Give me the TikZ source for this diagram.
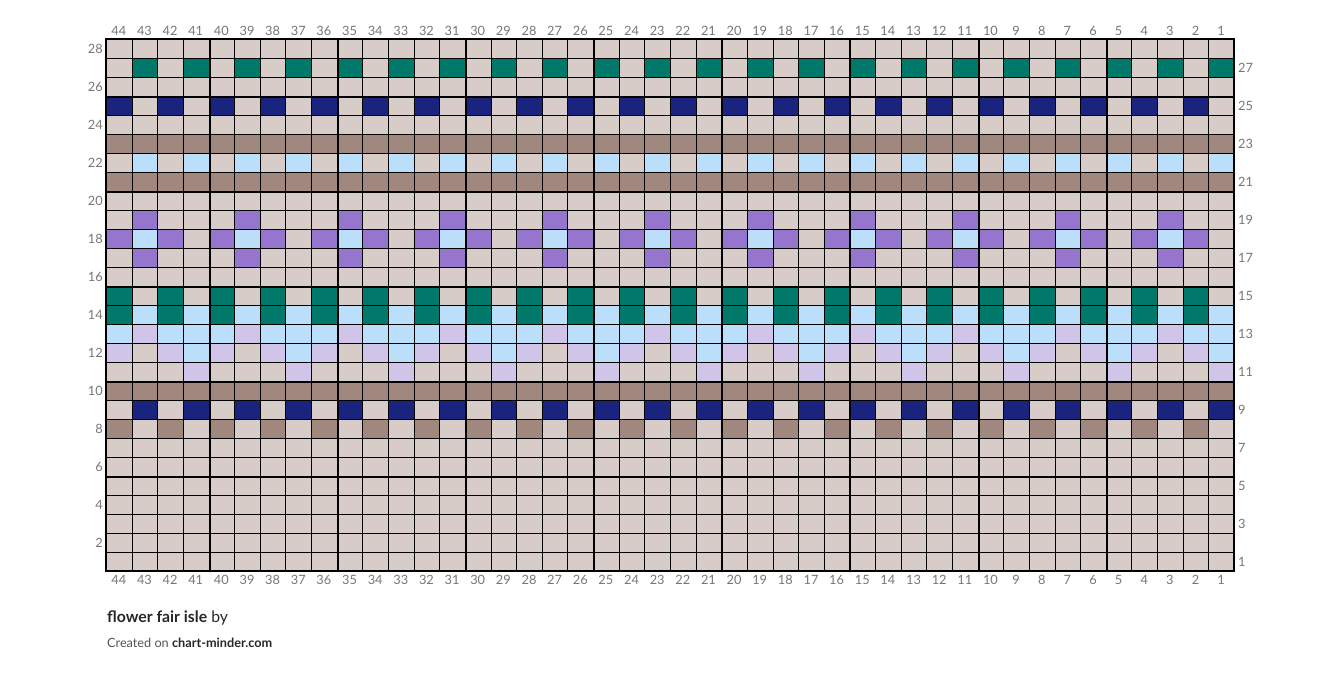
\documentclass[tikz,border=0pt]{standalone}
\usepackage{fontspec}
\setmainfont{Lato}
\usepackage{xcolor}
\usepackage{tikz}

\definecolor{kbg}{HTML}{D7CCC8}
\definecolor{ktaupe}{HTML}{A1887F}
\definecolor{kteal}{HTML}{00796B}
\definecolor{knavy}{HTML}{1A237E}
\definecolor{kblue}{HTML}{BBDEFB}
\definecolor{kpurple}{HTML}{9575CD}
\definecolor{klavender}{HTML}{D1C4E9}
\definecolor{numgray}{HTML}{767676}
\definecolor{creditgray}{HTML}{555555}

% one stitch: colour, stitch number (1 = right), row number (1 = bottom)
\newcommand{\kcell}[3]{\fill[#1] ({106+(44-#2)*\cw},{39+(28-#3)*\ch}) rectangle ++(\cw,\ch);}

\begin{document}
\begin{tikzpicture}[x=1pt,y=-1pt]
    \tikzstyle{num}=[font=\fontsize{12.8}{14}\selectfont, text=numgray, inner sep=0pt]
    \tikzstyle{thingrid}=[line width=1pt, black]
    \tikzstyle{thickgrid}=[line width=2pt, black]
    \def\cw{25.636}
    \def\ch{19}
    \useasboundingbox (0,0) rectangle (1340,674);

    % Background stitches
    \fill[kbg] (106,39) rectangle (1234,571);

    % Rows 27 and 25
    \foreach \c in {1,3,...,43} {\kcell{kteal}{\c}{27}}
    \foreach \c in {2,4,...,44} {\kcell{knavy}{\c}{25}}

    % Rows 23, 21 and 10 (plain taupe)
    \foreach \r in {10,21,23}
        \foreach \c in {1,...,44} {\kcell{ktaupe}{\c}{\r}}
    \foreach \c in {1,3,...,43} {\kcell{kblue}{\c}{22}}

    % Flowers (rows 17 to 19)
    \foreach \c in {3,7,...,43} {
        \kcell{kpurple}{\c}{19}
        \kcell{kpurple}{\c}{17}
        \kcell{kblue}{\c}{18}
    }
    \foreach \c in {2,4,...,44} {\kcell{kpurple}{\c}{18}}

    % Rows 15 and 14
    \foreach \c in {2,4,...,44} {
        \kcell{kteal}{\c}{15}
        \kcell{kteal}{\c}{14}
    }
    \foreach \c in {1,3,...,43} {\kcell{kblue}{\c}{14}}

    % Rows 13 to 11
    \foreach \c in {1,...,44} {\kcell{kblue}{\c}{13}}
    \foreach \c in {3,7,...,43} {\kcell{klavender}{\c}{13}}
    \foreach \c in {2,4,...,44} {\kcell{klavender}{\c}{12}}
    \foreach \c in {1,5,...,41} {
        \kcell{kblue}{\c}{12}
        \kcell{klavender}{\c}{11}
    }

    % Rows 9 and 8
    \foreach \c in {1,3,...,43} {\kcell{knavy}{\c}{9}}
    \foreach \c in {2,4,...,44} {\kcell{ktaupe}{\c}{8}}

    % Grid (snapped to whole pixels)
    \foreach \i [evaluate=\i as \xx using {round(106+\i*\cw)+0.5}] in {1,...,43}
        \draw[thingrid] (\xx,39) -- (\xx,571);
    \foreach \j in {1,...,27}
        \draw[thingrid] (106,{39.5+\j*\ch}) -- (1234,{39.5+\j*\ch});
    \foreach \i [evaluate=\i as \xx using {round(106+\i*\cw)+1}] in {4,9,...,39}
        \draw[thickgrid] (\xx,39) -- (\xx,571);
    \foreach \j in {3,8,...,23}
        \draw[thickgrid] (106,{40+\j*\ch}) -- (1234,{40+\j*\ch});
    \draw[line width=2.5pt] (106,39) rectangle (1234,571);

    % Stitch numbers
    \foreach \c in {1,...,44} {
        \node[num] (top\c) at ({106+(44-\c+0.5)*\cw},30.5) {\c};
        \node[num] (bot\c) at ({106+(44-\c+0.5)*\cw},580) {\c};
    }

    % Row numbers
    \foreach \r in {2,4,...,28}
        \node[num, anchor=east] (left\r) at (103,{39+(28-\r+0.5)*\ch}) {\r};
    \foreach \r in {1,3,...,27}
        \node[num, anchor=west] (right\r) at (1238,{39+(28-\r+0.5)*\ch}) {\r};

    % Title and credit
    \node[anchor=west, inner sep=0pt, font=\fontsize{15.8}{18}\selectfont, text=black!85] (title) at (107,618) {\textbf{flower fair isle} by};
    \node[anchor=west, inner sep=0pt, font=\fontsize{12.7}{14}\selectfont, text=black!85] (credit) at (107,643) {\textcolor{creditgray}{Created on} \textbf{chart-minder.com}};
\end{tikzpicture}
\end{document}
